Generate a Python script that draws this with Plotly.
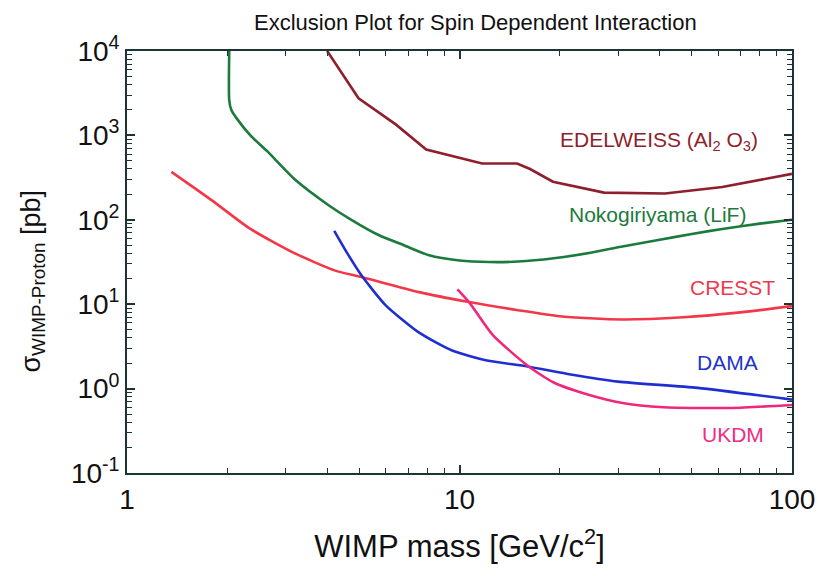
import math
import plotly.graph_objects as go

# ---- data ----
edel_x = [4.0, 4.97, 6.43, 7.94, 11.7, 14.9, 16.3, 19.1, 27.2, 41.5, 61.7, 100]
edel_y = [10000, 2750, 1350, 680, 465, 465, 400, 283, 210, 205, 245, 350]

noko_x = [2.03, 2.03, 2.06, 2.14, 2.35, 2.64, 3.2, 4.03, 4.73, 5.71, 6.8, 8.1, 10, 12.3, 15, 19.2, 25, 30.6, 40, 50, 61.7, 80, 100]
noko_y = [10000, 2600, 2000, 1580, 1000, 650, 300, 150, 100, 66, 50, 38, 33, 31.6, 32, 35, 41, 48, 58, 68, 78, 90, 100]

cresst_x = [1.36, 1.8, 2.35, 3.2, 4.23, 5.07, 7.56, 10.7, 15, 20, 30.6, 47, 70, 100]
cresst_y = [370, 170, 78, 40, 25, 21, 13.9, 10.6, 8.5, 7.2, 6.6, 7.0, 8.0, 9.5]

dama_x = [4.2, 4.6, 5.07, 6.0, 7.56, 9.5, 12.1, 16, 21.6, 30, 52, 100]
dama_y = [74, 40, 22, 9.7, 4.6, 2.83, 2.15, 1.83, 1.47, 1.21, 1.02, 0.74]

ukdm_x = [9.86, 10.7, 12.6, 16, 19.2, 24.3, 30.6, 41, 66, 100]
ukdm_y = [15, 10.5, 4.3, 1.88, 1.18, 0.85, 0.68, 0.6, 0.59, 0.64]

y_tickvals = [0.1, 1, 10, 100, 1000, 10000]
y_ticktext = ["10<sup>-1</sup>", "10<sup>0</sup>", "10<sup>1</sup>", "10<sup>2</sup>", "10<sup>3</sup>", "10<sup>4</sup>"]
x_tickvals = [1, 10, 100]
x_ticktext = ["1", "10", "100"]

labels = [
    ("EDELWEISS (Al<sub>2</sub> O<sub>3</sub>)", 39.7, 850, "#8e1f2c"),
    ("Nokogiriyama (LiF)", 39.5, 115, "#1b7a3c"),
    ("CRESST", 66.3, 15.9, "#ee3a4e"),
    ("DAMA", 63.9, 2.04, "#1f35c8"),
    ("UKDM", 66.6, 0.283, "#ee2d83"),
]

series = [
    (edel_x, edel_y, "#8e1f2c", "linear"),
    (noko_x, noko_y, "#1b7a3c", "spline"),
    (cresst_x, cresst_y, "#f23848", "spline"),
    (dama_x, dama_y, "#1f2fcf", "spline"),
    (ukdm_x, ukdm_y, "#f0287c", "spline"),
]

minor_x = [m * 10 ** d for d in range(0, 2) for m in range(2, 10)]
minor_y = [m * 10 ** d for d in range(-1, 4) for m in range(2, 10)]

fig = go.Figure()
for xs, ys, col, shp in series:
    fig.add_trace(go.Scatter(x=xs, y=ys, mode="lines",
                             line=dict(color=col, width=2.6, shape=shp, smoothing=0.6),
                             showlegend=False, hoverinfo="skip"))

FONT = "Liberation Sans, Arial"
for txt, lx, ly, col in labels:
    fig.add_annotation(x=math.log10(lx), y=math.log10(ly), xref="x", yref="y", text=txt,
                       showarrow=False,
                       font=dict(family=FONT, size=21, color=col),
                       xanchor="center", yanchor="middle")

fig.add_annotation(x=-0.142, y=0.455, xref="paper", yref="paper",
                   text="σ<sub>WIMP-Proton</sub> [pb]", textangle=-90, showarrow=False,
                   font=dict(family=FONT, size=27, color="#111"),
                   xanchor="center", yanchor="middle")

axis_col = "#1d3434"
common = dict(showline=True, linecolor=axis_col, linewidth=1.8, mirror="ticks",
              ticks="inside", ticklen=8, tickwidth=1.6, tickcolor=axis_col,
              showgrid=False, zeroline=False, layer="above traces")
fig.update_layout(
    template="none",
    xaxis=dict(type="log", range=[0, 2], tickmode="array", tickvals=x_tickvals, ticktext=x_ticktext,
               minor=dict(tickmode="array", tickvals=minor_x, ticks="inside", ticklen=5,
                          tickwidth=1.4, tickcolor=axis_col, showgrid=False),
               tickfont=dict(family=FONT, size=28, color="#111"),
               title=dict(text="WIMP mass [GeV/c<sup>2</sup>]", standoff=22,
                          font=dict(family=FONT, size=31, color="#111")),
               **common),
    yaxis=dict(type="log", range=[-1, 4], tickmode="array", tickvals=y_tickvals, ticktext=y_ticktext,
               minor=dict(tickmode="array", tickvals=minor_y, ticks="inside", ticklen=5,
                          tickwidth=1.4, tickcolor=axis_col, showgrid=False),
               tickfont=dict(family=FONT, size=28, color="#111"),
               **common),
    width=834, height=576,
    margin=dict(l=127, r=42, t=51, b=103),
    paper_bgcolor="white", plot_bgcolor="white",
    title=dict(text="Exclusion Plot for Spin Dependent Interaction",
               x=0.57, xanchor="center", y=0.962, yanchor="middle",
               font=dict(family=FONT, size=22, color="#111")),
)

fig.write_html("out.html")
